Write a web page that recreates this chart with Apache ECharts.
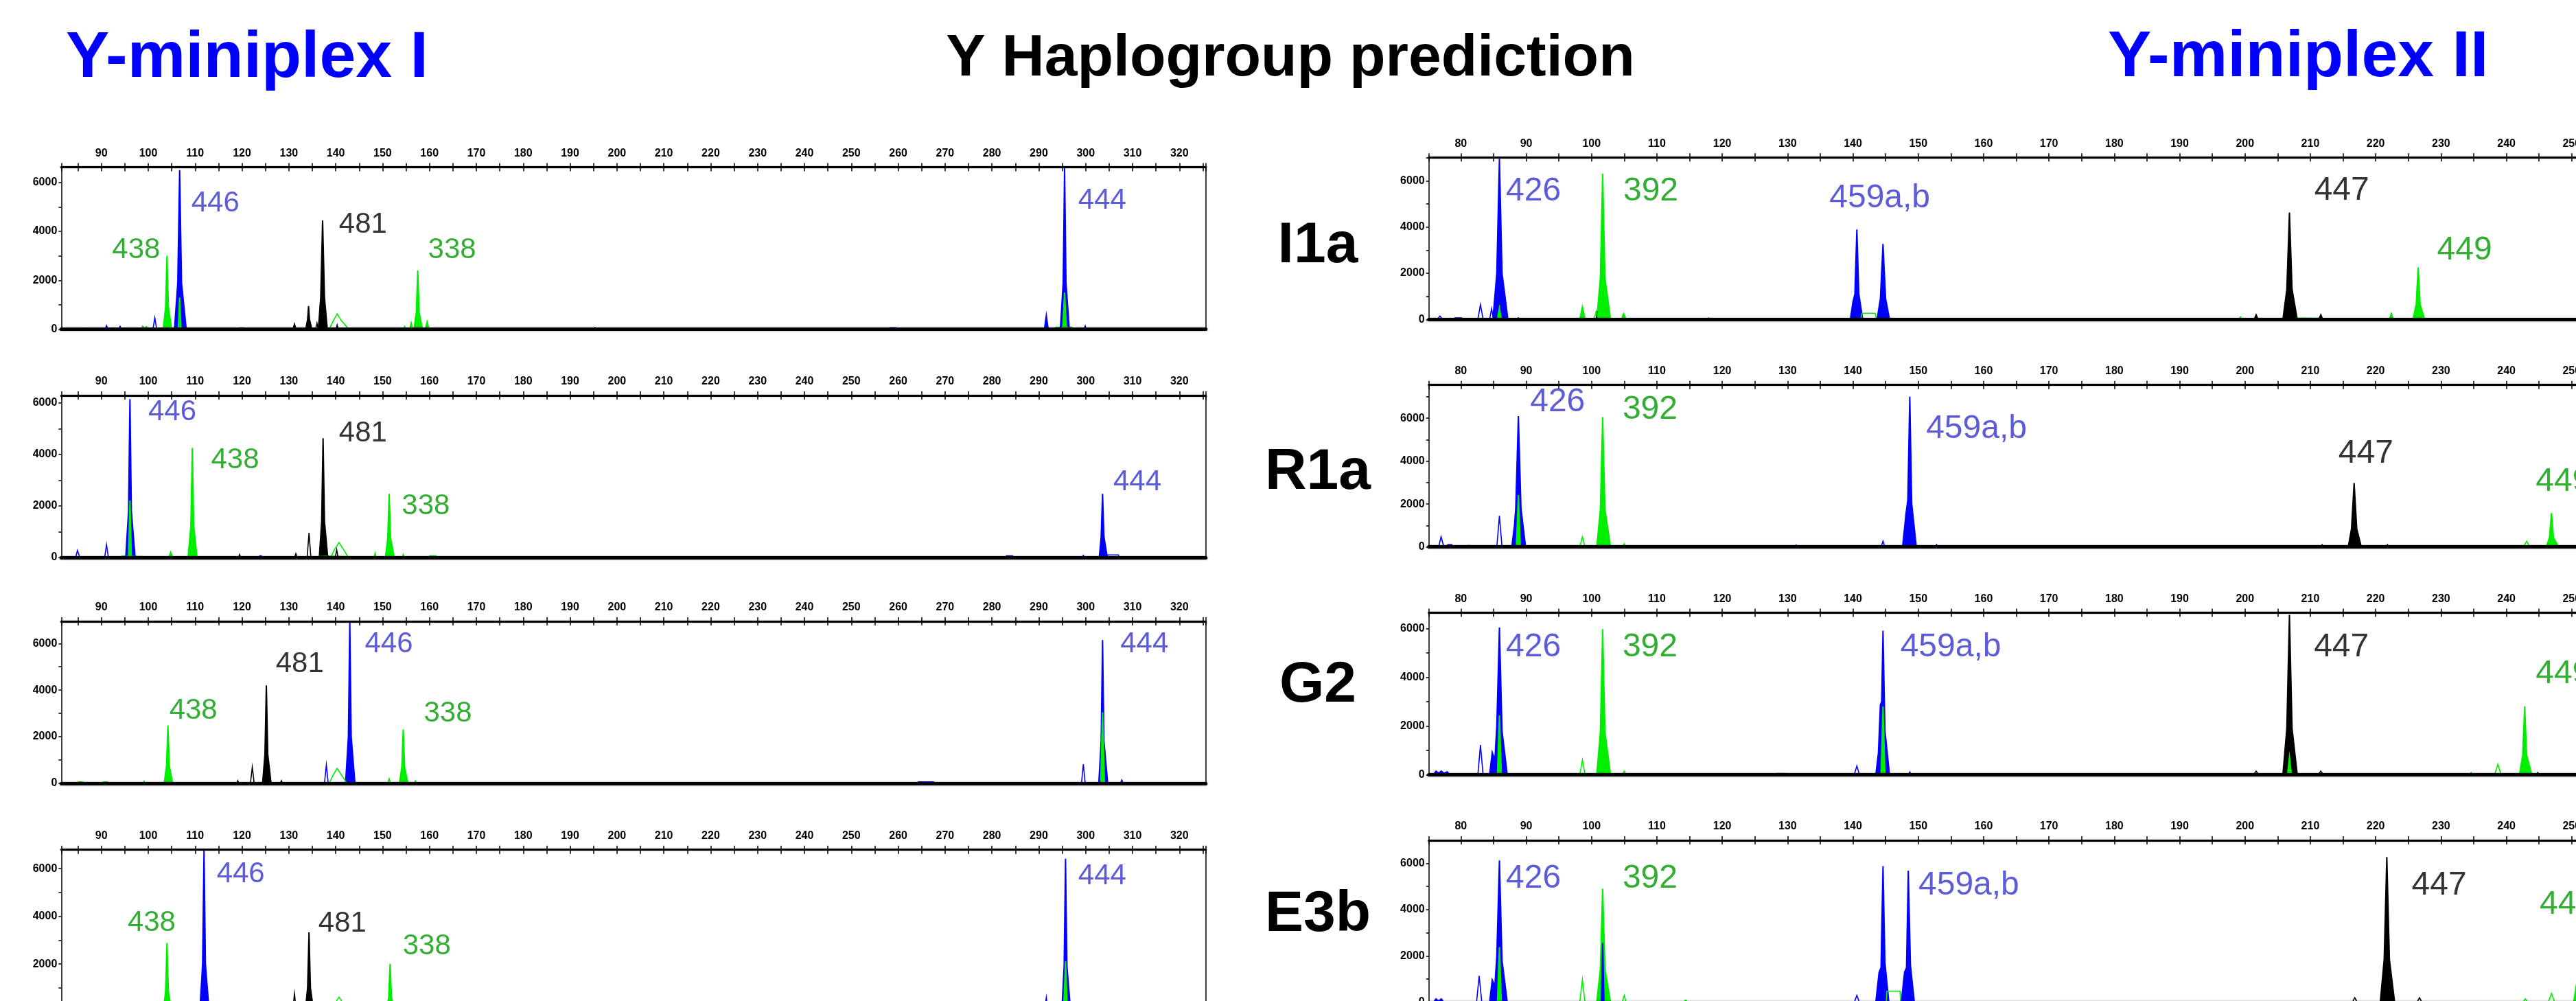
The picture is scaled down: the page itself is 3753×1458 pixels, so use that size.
<!DOCTYPE html>
<html>
<head>
<meta charset="utf-8">
<script src="https://cdn.jsdelivr.net/npm/echarts@6.0.0/dist/echarts.min.js"></script>
<style>
html,body{margin:0;padding:0;background:#fff;}
#chart{width:3753px;height:1458px;}
</style>
</head>
<body>
<div id="chart"></div>
<script>
// ---------------- DATA ----------------
const titleLeft = 'Y-miniplex I';
const titleMid = 'Y Haplogroup prediction';
const titleRight = 'Y-miniplex II';
const rowLabels = ['I1a', 'R1a', 'G2', 'E3b'];

const leftXRange = [81.45, 325.62];
const rightXRange = [75.1, 256];
const leftYMax = [6620, 6290, 6950, 6790];
const rightYMax = [7010, 7550, 6644, 6990];
const xLabelStep = 10;
const xTickStep = 5;
const yLabelStep = 2000;
const yTickStep = 1000;

// ---- Y-miniplex I, panel 1 (I1a) ----
const L1_blue = [[105.6,0],[106.3,1900],[106.7,6500],[107.1,1900],[108.1,0],[195.1,0],[195.3,60],[195.5,0],[248.4,0],[248.6,50],[248.8,0],[258.2,0],[258.3,60],[259.5,60],[259.6,0],[291.2,0],[291.6,560],[292.0,0],[294.6,0],[295.2,1900],[295.5,6600],[295.8,1900],[296.5,0],[299.7,0],[299.9,120],[300.1,0]];
const L1_blueO = [[90.8,0],[91.1,150],[91.4,0],[93.7,0],[94.0,120],[94.3,0],[101.0,0],[101.4,470],[101.8,0]];
const L1_green = [[85.0,0],[85.1,50],[86.4,50],[86.5,0],[90.0,0],[90.1,50],[92.4,50],[92.5,0],[98.6,0],[98.8,120],[99.2,40],[99.6,100],[100.0,0],[103.2,0],[103.7,900],[104.0,3000],[104.3,900],[105.0,0],[119.4,0],[119.5,60],[120.4,60],[120.5,0],[133.8,0],[133.9,50],[135.4,50],[135.5,0],[136.3,0],[136.4,50],[138.2,50],[138.3,0],[154.5,0],[154.7,100],[154.9,0],[155.8,0],[156.1,250],[156.4,0],[156.7,0],[157.2,700],[157.5,2400],[157.8,700],[158.5,0],[159.1,0],[159.5,300],[159.9,0],[293.5,0],[293.6,80],[297.0,80],[297.1,0]];
const L1_greenO = [[138.6,0],[139.5,350],[140.3,630],[141.2,350],[142.8,0]];
const L1_greenTop = [[106.4,0],[106.7,1300],[107.0,0],[295.1,0],[295.5,1500],[295.9,0]];
const L1_black = [[130.9,0],[131.2,200],[131.5,0],[133.6,0],[134.0,400],[134.2,950],[134.4,400],[134.9,0],[136.3,0],[136.8,1300],[137.2,4450],[137.6,1300],[138.2,0],[140.1,0],[140.3,150],[140.5,0]];
const L1_blackO = [[135.7,0],[136.0,250],[136.3,0]];
const L1_labels = [['438',92.3,2800,'g'],['446',109.2,4710,'b'],['481',140.7,3845,'k'],['338',159.7,2820,'g'],['444',298.4,4836,'b']];

// ---- Y-miniplex I, panel 2 (R1a) ----
const L2_blue = [[95.2,0],[95.8,1800],[96.1,6150],[96.4,1800],[97.2,0],[123.7,0],[123.8,60],[124.1,60],[124.2,0],[283.0,0],[283.1,60],[284.4,60],[284.5,0],[299.3,0],[299.5,70],[299.7,0],[302.9,0],[303.3,800],[303.6,2470],[303.9,800],[304.6,0]];
const L2_blueO = [[84.5,0],[84.9,270],[85.4,0],[90.7,0],[91.1,500],[91.5,0],[304.6,0],[304.7,100],[307.0,100],[307.1,0]];
const L2_green = [[93.0,0],[93.1,50],[94.8,50],[94.9,0],[104.4,0],[104.8,200],[105.2,0],[108.5,0],[109.1,1250],[109.4,4250],[109.7,1250],[110.4,0],[133.8,0],[133.9,50],[138.5,50],[138.6,0],[148.2,0],[148.4,150],[148.6,0],[150.6,0],[151.1,750],[151.4,2470],[151.7,750],[152.5,0],[154.2,0],[154.4,100],[154.6,0],[160.0,0],[160.1,60],[161.4,60],[161.5,0]];
const L2_greenO = [[138.9,0],[139.8,330],[140.7,580],[141.6,330],[142.7,0]];
const L2_greenTop = [[95.8,0],[96.1,2210],[96.4,0]];
const L2_black = [[119.3,0],[119.5,100],[119.7,0],[136.5,0],[137.0,1400],[137.3,4630],[137.6,1400],[138.3,0]];
const L2_blackO = [[131.2,0],[131.5,150],[131.8,0],[133.9,0],[134.3,955],[134.7,0],[139.9,0],[140.2,300],[140.5,0]];
const L2_labels = [['446',100.0,5250,'b'],['438',113.4,3380,'g'],['481',140.7,4410,'k'],['338',154.1,1575,'g'],['444',305.9,2507,'b']];

// ---- Y-miniplex I, panel 3 (G2) ----
const L3_blue = [[142.1,0],[142.7,2000],[143.0,6950],[143.3,2000],[144.1,0],[183.3,0],[183.5,50],[183.7,0],[195.1,0],[195.3,50],[195.5,0],[264.2,0],[264.3,60],[267.5,60],[267.6,0],[302.8,0],[303.3,1800],[303.6,6145],[303.9,1800],[304.7,0]];
const L3_blueO = [[137.6,0],[138.0,790],[138.4,0],[299.1,0],[299.5,825],[299.9,0],[307.4,0],[307.7,150],[308.0,0]];
const L3_green = [[85.0,0],[85.1,60],[86.0,60],[86.1,0],[90.3,0],[90.4,60],[91.3,60],[91.4,0],[98.9,0],[99.1,80],[99.3,0],[103.4,0],[103.9,750],[104.2,2480],[104.5,750],[105.2,0],[153.6,0],[154.1,700],[154.4,2310],[154.7,700],[155.4,0],[156.8,0],[157.0,100],[157.2,0]];
const L3_greenO = [[138.6,0],[139.5,370],[140.3,640],[141.2,370],[142.4,0],[151.1,0],[151.4,200],[151.7,0]];
const L3_greenTop = [[303.2,0],[303.6,3050],[304.0,0]];
const L3_black = [[118.9,0],[119.1,100],[119.3,0],[124.4,0],[124.9,1250],[125.2,4200],[125.5,1250],[126.2,0],[128.2,0],[128.4,100],[128.6,0]];
const L3_blackO = [[121.8,0],[122.2,700],[122.6,0]];
const L3_labels = [['438',104.5,2672,'g'],['481',127.2,4671,'k'],['446',146.2,5534,'b'],['338',158.8,2545,'g'],['444',307.4,5534,'b']];

// ---- Y-miniplex I, panel 4 (E3b) ----
const L4_blue = [[111.0,0],[111.6,2000],[111.9,6790],[112.2,2000],[113.0,0],[294.9,0],[295.4,1900],[295.7,6416],[296.0,1900],[296.8,0]];
const L4_blueO = [[106.4,0],[106.7,300],[107.0,0],[291.2,0],[291.6,600],[292.0,0]];
const L4_green = [[103.2,0],[103.7,850],[104.0,2880],[104.3,850],[105.0,0],[150.8,0],[151.3,600],[151.6,2010],[151.9,600],[152.6,0]];
const L4_greenO = [[139.0,0],[139.8,350],[140.7,615],[141.6,350],[142.7,0]];
const L4_greenTop = [[295.3,0],[295.7,2110],[296.1,0]];
const L4_black = [[133.5,0],[134.0,1000],[134.3,3330],[134.6,1000],[135.3,0]];
const L4_blackO = [[130.8,0],[131.2,760],[131.6,0]];
const L4_labels = [['438',95.6,3281,'g'],['446',114.6,5330,'b'],['481',136.3,3261,'k'],['338',154.3,2318,'g'],['444',298.4,5233,'b']];

// ---- Y-miniplex II, panel 1 (I1a) ----
const R1_blue = [[79.0,0],[79.1,60],[80.1,60],[80.2,0],[84.9,0],[85.5,2000],[85.9,6950],[86.3,2000],[87.2,0],[88.6,0],[88.8,60],[89.0,0],[139.6,0],[140.0,750],[140.3,1100],[140.6,3890],[140.9,1100],[141.5,0],[143.7,0],[144.2,900],[144.6,3270],[145.0,900],[145.6,0]];
const R1_blueO = [[76.4,0],[76.8,150],[77.2,0],[82.6,0],[83.0,645],[83.4,0],[84.4,0],[84.7,470],[85.0,0]];
const R1_green = [[98.2,0],[98.6,545],[99.0,0],[100.8,0],[101.35,1800],[101.7,6310],[102.05,1800],[102.9,0],[104.6,0],[104.9,250],[105.3,0],[117.8,0],[117.9,60],[118.1,60],[118.2,0],[199.1,0],[199.3,100],[199.5,0],[205.9,0],[206.0,50],[208.4,50],[208.5,0],[222.1,0],[222.4,250],[222.7,0],[225.7,0],[226.2,650],[226.5,2250],[226.8,650],[227.5,0]];
const R1_greenO = [[100.4,0],[100.7,350],[101.0,0],[141.2,0],[141.4,270],[143.4,270],[143.6,0]];
const R1_greenTop = [[85.6,0],[85.9,500],[86.2,0]];
const R1_black = [[100.75,0],[100.8,350],[100.85,0],[201.4,0],[201.7,200],[202.0,0],[205.8,0],[206.4,1300],[206.8,4630],[207.2,1300],[208.0,0],[211.3,0],[211.6,200],[211.9,0]];
const R1_labels = [['426',86.9,5026,'b'],['392',104.86,5026,'g'],['459a,b',136.4,4729,'b'],['447',210.6,5056,'k'],['449',229.4,2478,'g']];

// ---- Y-miniplex II, panel 2 (R1a) ----
const R2_blue = [[77.9,0],[78.0,100],[78.6,100],[78.7,0],[80.2,0],[80.3,60],[81.0,60],[81.1,0],[87.8,0],[88.2,1000],[88.4,1800],[88.8,6100],[89.2,1800],[89.9,0],[131.1,0],[131.3,80],[131.5,0],[147.6,0],[148.1,1500],[148.4,2200],[148.7,7000],[149.0,2000],[149.7,0],[152.6,0],[152.8,100],[153.0,0]];
const R2_blueO = [[76.6,0],[76.97,480],[77.4,0],[85.5,0],[85.9,1450],[86.3,0],[144.3,0],[144.6,275],[144.9,0]];
const R2_green = [[100.8,0],[101.35,1750],[101.7,6050],[102.05,1750],[102.9,0],[246.1,0],[246.6,450],[246.9,1580],[247.2,450],[248.0,0]];
const R2_greenO = [[98.2,0],[98.6,480],[99.0,0],[104.7,0],[105.0,150],[105.3,0],[242.6,0],[243.1,270],[243.6,0]];
const R2_greenTop = [[88.5,0],[88.8,2420],[89.1,0]];
const R2_black = [[211.6,0],[211.8,100],[212.0,0],[215.8,0],[216.3,850],[216.7,2980],[217.1,850],[217.8,0],[221.6,0],[221.8,100],[222.0,0]];
const R2_labels = [['426',90.6,6205,'b'],['392',104.75,5860,'g'],['459a,b',151.2,4959,'b'],['447',214.3,3808,'k'],['449',244.5,2492,'g']];

// ---- Y-miniplex II, panel 3 (G2) ----
const R3_blue = [[75.8,0],[76.2,150],[76.6,60],[77.0,150],[77.4,60],[77.9,120],[78.3,0],[84.4,0],[84.8,920],[85.2,600],[85.5,2000],[85.9,6040],[86.3,1800],[87.1,0],[127.1,0],[127.2,50],[128.4,50],[128.5,0],[143.5,0],[143.9,900],[144.2,2865],[144.4,3000],[144.6,5910],[144.9,1800],[145.6,0],[148.5,0],[148.7,100],[148.9,0]];
const R3_blueO = [[82.6,0],[83.0,1220],[83.4,0],[140.2,0],[140.6,365],[141.0,0]];
const R3_green = [[100.8,0],[101.35,1750],[101.7,5975],[102.05,1750],[102.9,0],[234.4,0],[234.6,80],[234.8,0],[242.0,0],[242.5,800],[242.8,2806],[243.1,800],[243.9,0]];
const R3_greenO = [[98.2,0],[98.6,610],[99.0,0],[104.7,0],[105.0,150],[105.3,0],[238.2,0],[238.7,430],[239.2,0]];
const R3_greenTop = [[85.6,0],[85.9,2440],[86.2,0],[144.3,0],[144.6,2800],[144.9,0],[206.5,0],[206.8,730],[207.1,0]];
const R3_black = [[205.8,0],[206.4,1900],[206.8,6560],[207.2,1900],[208.0,0],[244.6,0],[244.8,80],[245.0,0]];
const R3_blackO = [[201.3,0],[201.7,150],[202.1,0],[211.2,0],[211.6,150],[212.0,0]];
const R3_labels = [['426',86.9,4755,'b'],['392',104.75,4755,'g'],['459a,b',147.26,4755,'b'],['447',210.55,4755,'k'],['449',244.5,3656,'g']];

// ---- Y-miniplex II, panel 4 (E3b) ----
const R4_blue = [[75.8,0],[76.2,150],[76.6,60],[77.0,150],[77.4,0],[84.4,0],[84.8,970],[85.2,700],[85.5,2000],[85.9,6120],[86.3,1800],[87.1,0],[143.5,0],[144.0,1290],[144.3,1500],[144.6,5880],[144.9,1700],[145.5,0],[147.4,0],[147.9,1300],[148.2,1500],[148.47,5680],[148.8,1600],[149.4,0]];
const R4_blueO = [[82.4,0],[82.8,1145],[83.2,0],[140.2,0],[140.6,300],[141.0,0]];
const R4_blueTop = [[101.5,0],[101.7,2560],[101.9,0]];
const R4_green = [[100.8,0],[101.35,1450],[101.7,4910],[102.05,1450],[102.9,0],[250.3,0],[250.8,900],[251.2,3000],[251.6,900],[252.3,0]];
const R4_greenO = [[98.2,0],[98.6,970],[99.0,0],[104.7,0],[105.0,300],[105.3,0],[114.0,0],[114.4,100],[114.8,0],[145.1,0],[145.2,480],[147.2,480],[147.3,0],[242.5,0],[242.9,150],[243.3,0],[246.4,0],[246.9,390],[247.4,0]];
const R4_greenTop = [[85.6,0],[85.9,2380],[86.2,0]];
const R4_black = [[220.7,0],[221.3,1850],[221.7,6270],[222.1,1850],[222.9,0]];
const R4_blackO = [[216.4,0],[216.8,200],[217.2,0],[226.3,0],[226.7,200],[227.1,0]];
const R4_labels = [['426',86.9,4823,'b'],['392',104.75,4823,'g'],['459a,b',150.03,4545,'b'],['447',225.5,4545,'k'],['449',245.1,3708,'g']];

// ---------------- LAYOUT / STYLE ----------------
const FILL = {b:'#0000ff', g:'#00ee00', k:'#000000'};
const TEXT = {b:'#3333cc', g:'#009900', k:'#000000'};
const FONT = '"Liberation Sans", Arial, sans-serif';
const leftGridTops = [243.6, 576, 905, 1237.7];
const rightGridTops = [229.3, 560.7, 892.5, 1224];
const gridH = 236;
const leftGrid = {left: 89.3, width: 1667.4};
const rightGrid = {left: 2081.7, width: 1722.2};

const panels = [
  {side:'L', row:0, yMax:leftYMax[0], fill:{g:L1_green,b:L1_blue,k:L1_black}, line:{g:L1_greenO,b:L1_blueO,k:L1_blackO}, top:{g:L1_greenTop}, labels:L1_labels},
  {side:'L', row:1, yMax:leftYMax[1], fill:{g:L2_green,b:L2_blue,k:L2_black}, line:{g:L2_greenO,b:L2_blueO,k:L2_blackO}, top:{g:L2_greenTop}, labels:L2_labels},
  {side:'L', row:2, yMax:leftYMax[2], fill:{g:L3_green,b:L3_blue,k:L3_black}, line:{g:L3_greenO,b:L3_blueO,k:L3_blackO}, top:{g:L3_greenTop}, labels:L3_labels},
  {side:'L', row:3, yMax:leftYMax[3], fill:{g:L4_green,b:L4_blue,k:L4_black}, line:{g:L4_greenO,b:L4_blueO,k:L4_blackO}, top:{g:L4_greenTop}, labels:L4_labels},
  {side:'R', row:0, yMax:rightYMax[0], fill:{g:R1_green,b:R1_blue,k:R1_black}, line:{g:R1_greenO,b:R1_blueO}, top:{g:R1_greenTop}, labels:R1_labels},
  {side:'R', row:1, yMax:rightYMax[1], fill:{g:R2_green,b:R2_blue,k:R2_black}, line:{g:R2_greenO,b:R2_blueO}, top:{g:R2_greenTop}, labels:R2_labels},
  {side:'R', row:2, yMax:rightYMax[2], fill:{g:R3_green,b:R3_blue,k:R3_black}, line:{g:R3_greenO,b:R3_blueO,k:R3_blackO}, top:{g:R3_greenTop}, labels:R3_labels},
  {side:'R', row:3, yMax:rightYMax[3], fill:{g:R4_green,b:R4_blue,k:R4_black}, line:{g:R4_greenO,b:R4_blueO,k:R4_blackO}, top:{g:R4_greenTop,b:R4_blueTop}, labels:R4_labels}
];

function isMultiple(v, step) { return Math.abs(v - Math.round(v / step) * step) < 1e-6; }

const grids = [], xAxes = [], yAxes = [], series = [];
panels.forEach((p, i) => {
  const L = p.side === 'L';
  const g = L ? leftGrid : rightGrid;
  const top = (L ? leftGridTops : rightGridTops)[p.row];
  const xr = L ? leftXRange : rightXRange;
  grids.push({left: g.left, width: g.width, top: top, height: gridH, containLabel: false, outerBoundsMode: 'none'});
  const fs = L ? 42 : 48;
  // top labelled axis
  xAxes.push({
    type:'value', gridIndex:i, position:'top', min:xr[0], max:xr[1], z:8,
    splitNumber: Math.round((xr[1]-xr[0]) / xTickStep), minInterval:xTickStep, maxInterval:xTickStep,
    axisLine:{show:true, onZero:false, lineStyle:{color:'#000', width:3, shadowColor:'rgba(0,0,0,0.45)', shadowBlur:2}},
    axisTick:{show:true, length:6, lineStyle:{color:'#000', width:1.5}},
    axisLabel:{show:true, interval:0, margin:12, fontSize:16, fontWeight:'bold', fontFamily:FONT, color:'#000',
      formatter: v => isMultiple(v, xLabelStep) ? String(Math.round(v)) : ''},
    splitLine:{show:false}
  });
  // inner ticks
  xAxes.push({
    type:'value', gridIndex:i, position:'top', min:xr[0], max:xr[1], z:8,
    splitNumber: Math.round((xr[1]-xr[0]) / xTickStep), minInterval:xTickStep, maxInterval:xTickStep,
    axisLine:{show:false, onZero:false},
    axisTick:{show:true, inside:true, length:6, lineStyle:{color:'#000', width:1.5}},
    axisLabel:{show:false}, splitLine:{show:false}
  });
  // baseline
  xAxes.push({
    type:'value', gridIndex:i, position:'bottom', min:xr[0], max:xr[1], z:8,
    axisLine:{show:true, onZero:false, lineStyle:{color:'#000', width:5, shadowColor:'rgba(0,0,0,0.4)', shadowBlur:3}},
    axisTick:{show:false}, axisLabel:{show:false}, splitLine:{show:false}
  });
  yAxes.push({
    type:'value', gridIndex:i, position:'left', min:0, max:p.yMax, interval:yTickStep, z:8,
    axisLine:{show:true, onZero:false, lineStyle:{color:'#000', width:1.5}},
    axisTick:{show:true, length:4, lineStyle:{color:'#000', width:1.5}},
    axisLabel:{show:true, margin:6, fontSize:16, fontWeight:'bold', fontFamily:FONT, color:'#000', showMaxLabel:false,
      formatter: v => isMultiple(v, yLabelStep) ? String(Math.round(v)) : ''},
    splitLine:{show:false}
  });
  yAxes.push({
    type:'value', gridIndex:i, position:'right', min:0, max:p.yMax, z:8,
    axisLine:{show:true, onZero:false, lineStyle:{color:'#000', width:1.5}},
    axisTick:{show:false}, axisLabel:{show:false}, splitLine:{show:false}
  });
  const add = (data, dye, filled, z) => {
    if (!data || !data.length) return;
    const s = {type:'line', xAxisIndex:3*i, yAxisIndex:2*i, data:data, symbol:'none', showSymbol:false,
      silent:true, animation:false, z:z, clip:true,
      lineStyle:{width: filled ? 2 : 1.6, color: FILL[dye], join:'miter'}};
    if (filled) s.areaStyle = {color: FILL[dye], opacity: 1};
    series.push(s);
  };
  ['g','b','k'].forEach(d => add(p.fill[d], d, true, 2));
  ['g','b','k'].forEach(d => add(p.line[d], d, false, 3));
  ['g','b','k'].forEach(d => add(p.top[d], d, true, 4));
  series.push({
    type:'scatter', xAxisIndex:3*i, yAxisIndex:2*i, symbolSize:0.1, silent:true, animation:false, z:9,
    itemStyle:{color:'transparent'},
    data: p.labels.map(l => ({value:[l[1], l[2]], label:{formatter:l[0], color:TEXT[l[3]]}})),
    label:{show:true, position:[0,0], align:'left', verticalAlign:'middle', offset:[0, -0.358*fs],
      fontSize:fs, fontFamily:FONT, fontWeight:'normal'}
  });
});

const graphics = [
  {type:'text', style:{x:96, y:86, text:titleLeft, font:'bold 95px ' + FONT, fill:'#0000ff', align:'left', verticalAlign:'middle'}},
  {type:'text', style:{x:1880, y:86, text:titleMid, font:'bold 86px ' + FONT, fill:'#000', align:'center', verticalAlign:'middle'}},
  {type:'text', style:{x:3071, y:85, text:titleRight, font:'bold 95px ' + FONT, fill:'#0000ff', align:'left', verticalAlign:'middle'}}
];
const rowLabelY = [359, 689, 999, 1333];
rowLabels.forEach((t, k) => graphics.push({type:'text', style:{x:1920, y:rowLabelY[k], text:t, font:'bold 84px ' + FONT, fill:'#000', align:'center', verticalAlign:'middle'}}));

const chart = echarts.init(document.getElementById('chart'), null, {renderer:'canvas'});
chart.setOption({
  animation:false,
  backgroundColor:'#fff',
  grid: grids, xAxis: xAxes, yAxis: yAxes, series: series,
  graphic: graphics
});
</script>
</body>
</html>
